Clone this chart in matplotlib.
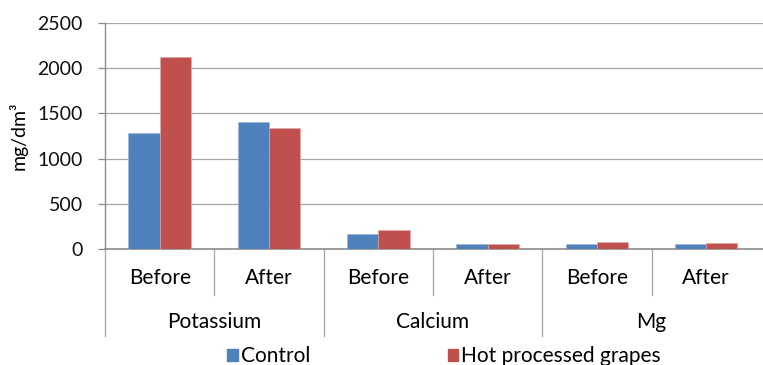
import matplotlib
matplotlib.use("Agg")
import matplotlib.pyplot as plt
from matplotlib.patches import Patch
import matplotlib.transforms as mtransforms

plt.rcParams['font.family'] = ['Lato', 'DejaVu Sans']

groups = ["Potassium", "Calcium", "Mg"]
stages = ["Before", "After"]
series_names = ["Control", "Hot processed grapes"]
control = [1285, 1405, 170, 60, 55, 60]
hot = [2125, 1335, 215, 60, 75, 65]
yticks = [0, 500, 1000, 1500, 2000, 2500]

blue = "#4F81BD"
red = "#C0504D"
gray = "#8C8C8C"
fs = 15

W, H = 763, 365
fig = plt.figure(figsize=(W / 100, H / 100), dpi=100)
left, right, top, bottom = 105, 763, 23, 249
ax = fig.add_axes([left / W, 1 - bottom / H, (right - left) / W, (bottom - top) / H])

n = len(control)
xs = list(range(n))
bw = 0.286
ax.bar([x - bw / 2 for x in xs], control, width=bw, color=blue, edgecolor="#9DB6D8", linewidth=0.4, zorder=3)
ax.bar([x + bw / 2 for x in xs], hot, width=bw, color=red, edgecolor="#E0A8A6", linewidth=0.4, zorder=3)

ax.set_xlim(-0.5, n - 0.5 + 0.02)
ax.set_ylim(0, 2500)
ax.set_yticks(yticks)
ax.set_yticklabels([str(v) for v in yticks], fontsize=14, color="#111111")
ax.yaxis.grid(True, color="#A6A6A6", linewidth=0.9, zorder=0)
ax.set_axisbelow(True)
ax.tick_params(axis="y", length=5, color=gray, width=0.9, pad=11)
ax.set_xticks([])
for s in ["top", "right"]:
    ax.spines[s].set_visible(False)
ax.spines["left"].set_color(gray)
ax.spines["bottom"].set_color(gray)
ax.spines["left"].set_linewidth(1.0)
ax.spines["bottom"].set_linewidth(1.2)

ax.set_ylabel("mg/dm³", fontsize=14)
ax.yaxis.set_label_coords(-(105 - 28) / (right - left), 0.5)

trans = mtransforms.blended_transform_factory(ax.transData, ax.transAxes)
axh = bottom - top
short_y = -46 / axh
long_y = -87 / axh
for i in range(n + 1):
    xb = i - 0.5
    if i % 2 == 0:
        if i == n:
            continue
        ax.plot([xb, xb], [0, long_y], transform=trans, clip_on=False, color="#A6A6A6", lw=0.9)
    else:
        ax.plot([xb, xb], [0, short_y], transform=trans, clip_on=False, color="#A6A6A6", lw=0.9)

for i in range(n):
    ax.text(i, -29 / axh, stages[i % 2], transform=trans, ha="center", va="center", fontsize=fs)
for g, name in enumerate(groups):
    ax.text(2 * g + 0.5, -73 / axh, name, transform=trans, ha="center", va="center", fontsize=fs)

handles = [Patch(facecolor=blue, edgecolor=blue), Patch(facecolor=red, edgecolor=red)]
fig.legend(handles, series_names, loc="center", bbox_to_anchor=(444 / W, 1 - 356 / H),
           ncol=2, frameon=False, fontsize=fs, handlelength=0.5, handleheight=0.5,
           handletextpad=0.15, columnspacing=6.6, borderaxespad=0, borderpad=0)

fig.savefig("out.png", dpi=100)
